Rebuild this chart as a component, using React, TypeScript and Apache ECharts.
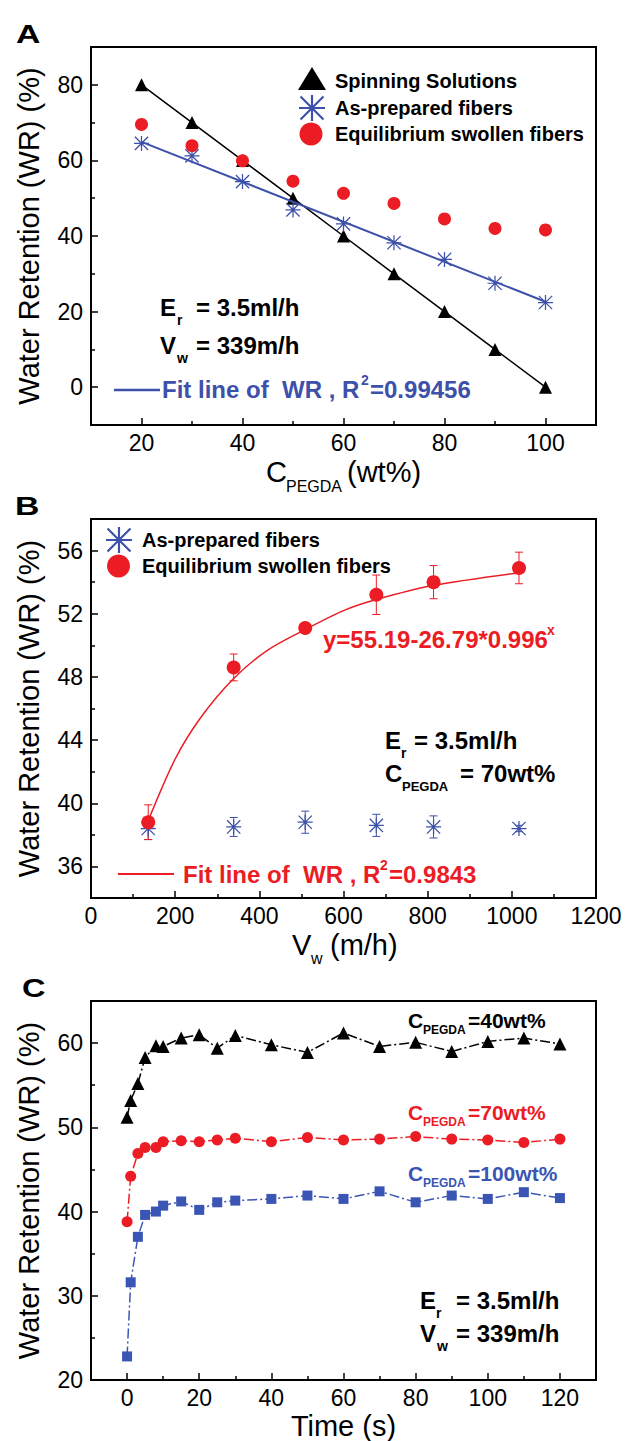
import React, { useEffect, useRef } from 'react';
import * as echarts from 'echarts';

const FONT = "'Liberation Sans', Arial, Helvetica, sans-serif";
const RED = '#ec1c24';
const BLUE = '#3d50aa';
const SQUARE_BLUE = '#3a55b4';
const BLACK = '#000000';

// ---------- Panel A ----------
const concA = [20, 30, 40, 50, 60, 70, 80, 90, 100];
const spinA = [80, 70, 60, 50, 40, 30, 20, 10, 0];
const asPrepA = [64.5, 61.2, 54.4, 46.9, 43.2, 38.2, 33.8, 27.5, 22.4];
const swollenA = [69.5, 63.9, 59.9, 54.5, 51.3, 48.6, 44.5, 42.0, 41.6];
const fitAx = [20, 100];
const fitAy = [64.9, 22.6];
const ticksAx = [20, 40, 60, 80, 100];
const minorAx = [30, 50, 70, 90];
const ticksAy = [0, 20, 40, 60, 80];
const minorAy = [10, 30, 50, 70];

// ---------- Panel B ----------
const vwB = [136, 339, 509, 678, 814, 1017];
const swollenB = [38.8, 48.6, 51.1, 53.2, 54.0, 54.9];
const swollenErrB = [1.1, 0.85, 0.3, 1.25, 1.05, 1.0];
const asPrepB = [38.4, 38.5, 38.8, 38.6, 38.5, 38.4];
const asPrepErrB = [0.7, 0.6, 0.7, 0.7, 0.7, 0.2];
const fitBx = [136, 200, 260, 339, 420, 509, 600, 678, 815, 1017];
const fitBy = [38.9, 42.8, 45.4, 47.9, 49.7, 51.0, 52.2, 52.9, 53.8, 54.6];
const ticksBx = [0, 200, 400, 600, 800, 1000, 1200];
const minorBx = [100, 300, 500, 700, 900, 1100];
const ticksBy = [36, 40, 44, 48, 52, 56];
const minorBy = [38, 42, 46, 50, 54];

// ---------- Panel C ----------
const timeC = [0, 1, 3, 5, 8, 10, 15, 20, 25, 30, 40, 50, 60, 70, 80, 90, 100, 110, 120];
const c40 = [51.2, 53.2, 55.2, 58.3, 59.7, 59.6, 60.6, 61.0, 59.4, 60.9, 59.8, 58.9, 61.2, 59.6, 60.1, 59.0, 60.2, 60.6, 59.9];
const c70 = [38.8, 44.2, 46.9, 47.6, 47.6, 48.3, 48.4, 48.3, 48.5, 48.7, 48.3, 48.8, 48.5, 48.6, 48.9, 48.6, 48.5, 48.2, 48.6];
const c100 = [22.8, 31.6, 37.0, 39.6, 40.0, 40.7, 41.2, 40.2, 41.1, 41.3, 41.5, 41.9, 41.5, 42.4, 41.1, 41.9, 41.5, 42.3, 41.6];
const ticksCx = [0, 20, 40, 60, 80, 100, 120];
const minorCx = [10, 30, 50, 70, 90, 110];
const ticksCy = [20, 30, 40, 50, 60];
const minorCy = [25, 35, 45, 55];

const ASTERISK_D =
  'M11 0H13V24H11Z M0 11H24V13H0Z M0.7 2.1L2.1 0.7L23.3 21.9L21.9 23.3Z M21.9 0.7L23.3 2.1L2.1 23.3L0.7 21.9Z';

let registered = false;
function ensureShapes() {
  if (registered) return;
  echarts.graphic.registerShape('asterisk', echarts.graphic.extendPath(ASTERISK_D, {}) as any);
  registered = true;
}

const zip = (xs: number[], ys: number[]) => xs.map((x, i) => [x, ys[i]]);

const GRID_LEFT = 91;
const GRID_RIGHT = 31;

function axisPair(dim: 'x' | 'y', gridIndex: number, min: number, max: number, major: number[], minor: number[], withName?: boolean) {
  const primary: any = {
    type: 'value',
    gridIndex,
    min,
    max,
    position: dim === 'x' ? 'bottom' : 'left',
    axisLine: { show: false, onZero: false },
    splitLine: { show: false },
    axisTick: { show: true, inside: true, length: 7, customValues: major, lineStyle: { color: BLACK, width: 1.5 } },
    axisLabel: {
      customValues: major,
      margin: dim === 'x' ? 6 : 8,
      fontSize: 23,
      color: BLACK,
      fontFamily: FONT,
      formatter: (v: number) => String(v),
    },
  };
  if (withName) {
    primary.name = 'Water Retention (WR) (%)';
    primary.nameLocation = 'middle';
    primary.nameGap = 48;
    primary.nameTextStyle = { fontSize: 29, fontFamily: FONT, color: BLACK };
  }
  const secondary: any = {
    type: 'value',
    gridIndex,
    min,
    max,
    position: dim === 'x' ? 'bottom' : 'left',
    axisLine: { show: false, onZero: false },
    splitLine: { show: false },
    axisLabel: { show: false },
    axisTick: { show: true, inside: true, length: 4, customValues: minor, lineStyle: { color: BLACK, width: 1.5 } },
  };
  return [primary, secondary];
}

function errorBars(xs: number[], ys: number[], es: number[], color: string, xi: number, yi: number) {
  return {
    type: 'custom',
    xAxisIndex: xi,
    yAxisIndex: yi,
    silent: true,
    z: 1,
    data: xs.map((x, i) => [x, ys[i], es[i]]),
    encode: { x: 0, y: 1 },
    renderItem: (_params: any, api: any) => {
      const x = api.value(0);
      const y = api.value(1);
      const e = api.value(2);
      const t = api.coord([x, y + e]);
      const b = api.coord([x, y - e]);
      const w = 4;
      const st = { stroke: color, lineWidth: 1 };
      return {
        type: 'group',
        children: [
          { type: 'line', shape: { x1: t[0], y1: t[1], x2: b[0], y2: b[1] }, style: st },
          { type: 'line', shape: { x1: t[0] - w, y1: t[1], x2: t[0] + w, y2: t[1] }, style: st },
          { type: 'line', shape: { x1: b[0] - w, y1: b[1], x2: b[0] + w, y2: b[1] }, style: st },
        ],
      };
    },
  };
}

function txt(x: number, y: number, text: string, size: number, opts: any = {}) {
  const el: any = {
    type: 'text',
    x,
    y,
    silent: true,
    style: {
      text,
      fontSize: size,
      fontFamily: FONT,
      fontWeight: opts.bold ? 'bold' : 'normal',
      fill: opts.color || BLACK,
      align: opts.align || 'left',
      textAlign: opts.align || 'left',
      verticalAlign: 'middle',
      textVerticalAlign: 'middle',
    },
  };
  if (opts.scaleX) el.scaleX = opts.scaleX;
  return el;
}

function asterisk(cx: number, cy: number, size: number, color: string) {
  return {
    type: 'asterisk',
    x: cx - size / 2,
    y: cy - size / 2,
    scaleX: size / 24,
    scaleY: size / 24,
    silent: true,
    style: { fill: color },
  };
}

function buildOption(): any {
  const xAxes = [
    ...axisPair('x', 0, 10, 110, ticksAx, minorAx),
    ...axisPair('x', 1, 0, 1200, ticksBx, minorBx),
    ...axisPair('x', 2, -10, 130, ticksCx, minorCx),
  ];
  const yAxes = [
    ...axisPair('y', 0, -10, 90, ticksAy, minorAy, true),
    ...axisPair('y', 1, 34, 58, ticksBy, minorBy, true),
    ...axisPair('y', 2, 20, 65, ticksCy, minorCy, true),
  ];
  const gridBase = { left: GRID_LEFT, right: GRID_RIGHT, show: true, borderColor: BLACK, borderWidth: 2, backgroundColor: 'transparent' };
  const grids = [
    { ...gridBase, top: 47, height: 378 },
    { ...gridBase, top: 519, height: 379 },
    { ...gridBase, top: 1001, height: 379 },
  ];

  const astSymbol = 'path://' + ASTERISK_D;
  const dash = [10, 3, 2, 3];

  const series: any[] = [
    // Panel A
    {
      type: 'line', name: 'Spinning Solutions', xAxisIndex: 0, yAxisIndex: 0,
      data: zip(concA, spinA), symbol: 'triangle', symbolSize: 13,
      itemStyle: { color: BLACK }, lineStyle: { color: BLACK, width: 1.5 }, z: 2,
    },
    {
      type: 'line', name: 'Fit line of WR (A)', xAxisIndex: 0, yAxisIndex: 0,
      data: zip(fitAx, fitAy), symbol: 'none', lineStyle: { color: BLUE, width: 2 }, z: 3,
    },
    {
      type: 'scatter', name: 'As-prepared fibers', xAxisIndex: 0, yAxisIndex: 0,
      data: zip(concA, asPrepA), symbol: astSymbol, symbolSize: 15, itemStyle: { color: BLUE, opacity: 1 }, z: 4,
    },
    {
      type: 'scatter', name: 'Equilibrium swollen fibers', xAxisIndex: 0, yAxisIndex: 0,
      data: zip(concA, swollenA), symbol: 'circle', symbolSize: 13, itemStyle: { color: RED, opacity: 1 }, z: 5,
    },
    // Panel B
    {
      type: 'line', name: 'Fit line of WR (B)', xAxisIndex: 2, yAxisIndex: 2,
      data: zip(fitBx, fitBy), symbol: 'none', smooth: 0.3,
      lineStyle: { color: RED, width: 1.5 }, z: 2,
    },
    errorBars(vwB, asPrepB, asPrepErrB, BLUE, 2, 2),
    {
      type: 'scatter', name: 'As-prepared fibers (B)', xAxisIndex: 2, yAxisIndex: 2,
      data: zip(vwB, asPrepB), symbol: astSymbol, symbolSize: 15, itemStyle: { color: BLUE, opacity: 1 }, z: 3,
    },
    errorBars(vwB, swollenB, swollenErrB, RED, 2, 2),
    {
      type: 'scatter', name: 'Equilibrium swollen fibers (B)', xAxisIndex: 2, yAxisIndex: 2,
      data: zip(vwB, swollenB), symbol: 'circle', symbolSize: 14, itemStyle: { color: RED, opacity: 1 }, z: 4,
    },
    // Panel C
    {
      type: 'line', name: 'C40', xAxisIndex: 4, yAxisIndex: 4,
      data: zip(timeC, c40), symbol: 'triangle', symbolSize: 13,
      itemStyle: { color: BLACK }, lineStyle: { color: BLACK, width: 1.5, type: dash }, z: 2,
    },
    {
      type: 'line', name: 'C70', xAxisIndex: 4, yAxisIndex: 4,
      data: zip(timeC, c70), symbol: 'circle', symbolSize: 11,
      itemStyle: { color: RED }, lineStyle: { color: RED, width: 1.5, type: dash }, z: 2,
    },
    {
      type: 'line', name: 'C100', xAxisIndex: 4, yAxisIndex: 4,
      data: zip(timeC, c100), symbol: 'rect', symbolSize: 10,
      itemStyle: { color: SQUARE_BLUE }, lineStyle: { color: SQUARE_BLUE, width: 1.5, type: dash }, z: 2,
    },
  ];

  const graphics: any[] = [
    // Panel letters
    txt(16, 34, 'A', 25, { bold: true, scaleX: 1.35 }),
    txt(15, 506, 'B', 25, { bold: true, scaleX: 1.35 }),
    txt(22, 988, 'C', 25, { bold: true, scaleX: 1.3 }),

    // Panel A legend
    { type: 'polygon', silent: true, shape: { points: [[298, 90], [326, 90], [312, 67]] }, style: { fill: BLACK } },
    txt(335, 81, 'Spinning Solutions', 20, { bold: true }),
    asterisk(312, 108, 26, BLUE),
    txt(335, 108, 'As-prepared fibers', 20, { bold: true }),
    { type: 'circle', silent: true, shape: { cx: 311, cy: 134, r: 11.5 }, style: { fill: RED } },
    txt(335, 134, 'Equilibrium swollen fibers', 20, { bold: true }),

    // Panel A annotations
    txt(160, 307, 'E', 24, { bold: true }),
    txt(177, 320, 'r', 14, { bold: true }),
    txt(196, 307, '= 3.5ml/h', 24, { bold: true }),
    txt(160, 345, 'V', 24, { bold: true }),
    txt(177, 358, 'w', 14, { bold: true }),
    txt(196, 345, '= 339m/h', 24, { bold: true }),
    { type: 'line', silent: true, shape: { x1: 114, y1: 390, x2: 160, y2: 390 }, style: { stroke: BLUE, lineWidth: 2.5 } },
    txt(162, 389, 'Fit line of  WR , R', 24, { bold: true, color: BLUE }),
    txt(361, 380, '2', 14, { bold: true, color: BLUE }),
    txt(370, 389, '=0.99456', 24, { bold: true, color: BLUE }),

    // Panel A x title
    txt(266, 472, 'C', 29),
    txt(286, 486, 'PEGDA', 16),
    txt(347, 472, '(wt%)', 29),

    // Panel B legend
    asterisk(119, 540, 26, BLUE),
    txt(142, 540, 'As-prepared fibers', 20, { bold: true }),
    { type: 'circle', silent: true, shape: { cx: 118.5, cy: 566, r: 11.5 }, style: { fill: RED } },
    txt(142, 566, 'Equilibrium swollen fibers', 20, { bold: true }),

    // Panel B annotations
    txt(323, 639, 'y=55.19-26.79*0.996', 24, { bold: true, color: RED }),
    txt(547, 630, 'x', 14, { bold: true, color: RED }),
    txt(385, 740, 'E', 24, { bold: true }),
    txt(401, 753, 'r', 14, { bold: true }),
    txt(414, 740, '= 3.5ml/h', 24, { bold: true }),
    txt(385, 773, 'C', 24, { bold: true }),
    txt(402, 786, 'PEGDA', 13, { bold: true }),
    txt(460, 773, '= 70wt%', 24, { bold: true }),
    { type: 'line', silent: true, shape: { x1: 118, y1: 874, x2: 174, y2: 874 }, style: { stroke: RED, lineWidth: 2 } },
    txt(183, 874, 'Fit line of  WR , R', 24, { bold: true, color: RED }),
    txt(380, 865, '2', 14, { bold: true, color: RED }),
    txt(389, 874, '=0.9843', 24, { bold: true, color: RED }),

    // Panel B x title
    txt(292, 945, 'V', 29),
    txt(311, 958, 'w', 16),
    txt(330, 945, '(m/h)', 29),

    // Panel C annotations
    txt(408, 1020, 'C', 21, { bold: true }),
    txt(423, 1030, 'PEGDA', 12, { bold: true }),
    txt(468, 1020, '=40wt%', 21, { bold: true }),
    txt(408, 1112, 'C', 21, { bold: true, color: RED }),
    txt(423, 1122, 'PEGDA', 12, { bold: true, color: RED }),
    txt(468, 1112, '=70wt%', 21, { bold: true, color: RED }),
    txt(408, 1173, 'C', 21, { bold: true, color: SQUARE_BLUE }),
    txt(423, 1183, 'PEGDA', 12, { bold: true, color: SQUARE_BLUE }),
    txt(468, 1173, '=100wt%', 21, { bold: true, color: SQUARE_BLUE }),
    txt(420, 1300, 'E', 24, { bold: true }),
    txt(436, 1313, 'r', 14, { bold: true }),
    txt(456, 1300, '= 3.5ml/h', 24, { bold: true }),
    txt(420, 1333, 'V', 24, { bold: true }),
    txt(437, 1346, 'w', 14, { bold: true }),
    txt(456, 1333, '= 339m/h', 24, { bold: true }),

    // Panel C x title
    txt(343.5, 1426, 'Time (s)', 29, { align: 'center' }),
  ];

  return {
    animation: false,
    backgroundColor: '#ffffff',
    textStyle: { fontFamily: FONT },
    grid: grids,
    xAxis: xAxes,
    yAxis: yAxes,
    series,
    graphic: { elements: graphics },
  };
}

export default function App() {
  const ref = useRef<HTMLDivElement>(null);
  useEffect(() => {
    document.body.style.margin = '0';
    ensureShapes();
    if (!ref.current) return;
    const chart = echarts.init(ref.current, undefined, { renderer: 'svg' });
    chart.setOption(buildOption());
    return () => {
      chart.dispose();
    };
  }, []);
  return <div ref={ref} style={{ width: 627, height: 1441, background: '#fff' }} />;
}
